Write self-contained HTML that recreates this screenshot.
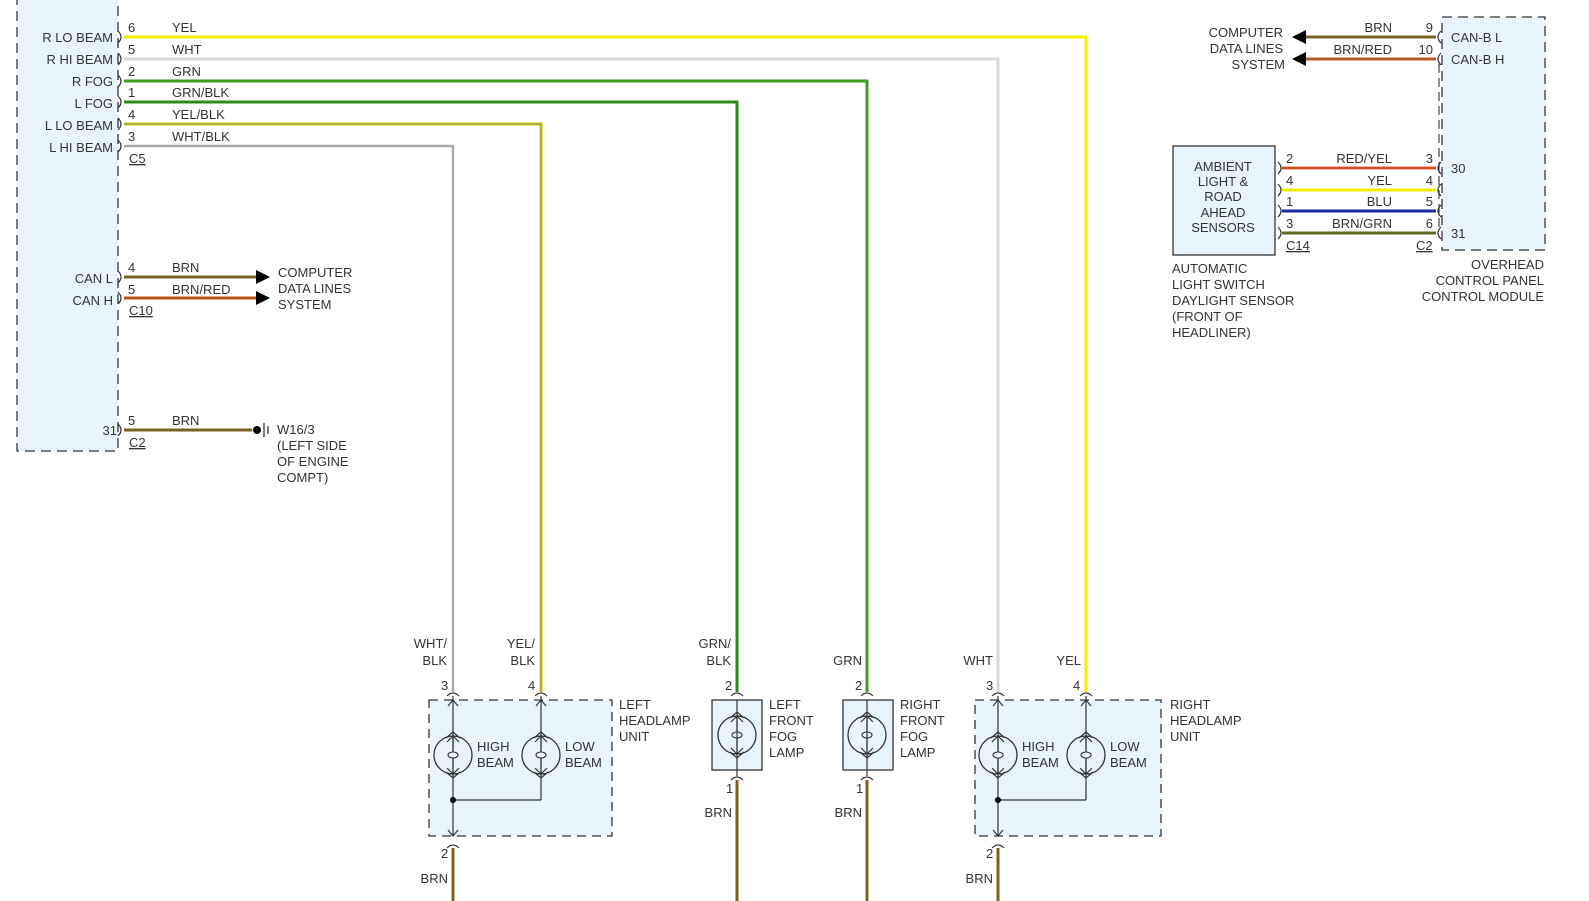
<!DOCTYPE html>
<html><head><meta charset="utf-8"><style>
html,body{margin:0;padding:0;background:#fff;width:1589px;height:901px;overflow:hidden}
svg{display:block}
svg text{font-family:"Liberation Sans",sans-serif;font-size:13px;fill:#333}
</style></head><body>
<svg width="1589" height="901" viewBox="0 0 1589 901" xmlns="http://www.w3.org/2000/svg">
<defs>
<g id="bulb">
<circle cx="0" cy="0" r="19" fill="none" stroke="#333" stroke-width="1.3"/>
<line x1="0" y1="-19" x2="0" y2="19" stroke="#333" stroke-width="1.2"/>
<polyline points="-6,-13 0,-19 6,-13" fill="none" stroke="#333" stroke-width="1.2"/>
<polyline points="-6,13 0,19 6,13" fill="none" stroke="#333" stroke-width="1.2"/>
<polyline points="-7,-17 0,-23 7,-17" fill="none" stroke="#333" stroke-width="1.2"/>
<polyline points="-7,17 0,23 7,17" fill="none" stroke="#333" stroke-width="1.2"/>
<ellipse cx="0" cy="0" rx="5" ry="3" fill="#eaf5fd" stroke="#333" stroke-width="1.1"/>
</g>
<g id="pinT"><path d="M-6,4 Q0,-2 6,4" fill="none" stroke="#333" stroke-width="1.2"/></g>
<g id="pinR"><path d="M-3,-6 Q3,0 -3,6" fill="none" stroke="#333" stroke-width="1.2"/></g>
<g id="pinL"><path d="M3,-6 Q-3,0 3,6" fill="none" stroke="#333" stroke-width="1.2"/></g>
</defs>

<rect x="17" y="-5" width="101" height="456" fill="#e8f4fc" stroke="#333" stroke-width="1.3" stroke-dasharray="10,6"/>
<g text-anchor="end">
<text x="113" y="42">R LO BEAM</text><text x="113" y="64">R HI BEAM</text><text x="113" y="86">R FOG</text>
<text x="113" y="108">L FOG</text><text x="113" y="130">L LO BEAM</text><text x="113" y="152">L HI BEAM</text>
<text x="113" y="283">CAN L</text><text x="113" y="305">CAN H</text><text x="117" y="435">31</text>
</g>

<polyline points="124,37 1086,37 1086,692" fill="none" stroke="#f2ee00" stroke-width="3"/>
<polyline points="124,59 998,59 998,692" fill="none" stroke="#d8d8d8" stroke-width="3"/>
<polyline points="124,81 867,81 867,692" fill="none" stroke="#3f9a1e" stroke-width="3"/>
<polyline points="124,102 737,102 737,692" fill="none" stroke="#2f8a1a" stroke-width="3"/>
<polyline points="124,124 541,124 541,692" fill="none" stroke="#e8e040" stroke-width="3.4"/>
<polyline points="124,124 541,124 541,692" fill="none" stroke="#9a9a40" stroke-width="1.4"/>
<polyline points="124,146 453,146 453,692" fill="none" stroke="#a8a8a8" stroke-width="2.4"/>
<g>
<use href="#pinR" x="121" y="37"/><use href="#pinR" x="121" y="59"/><use href="#pinR" x="121" y="81"/>
<use href="#pinR" x="121" y="102"/><use href="#pinR" x="121" y="124"/><use href="#pinR" x="121" y="146"/>
<use href="#pinR" x="121" y="277"/><use href="#pinR" x="121" y="298"/><use href="#pinR" x="121" y="430"/>
</g>
<g font-size="12">
<text x="128" y="32">6</text><text x="128" y="54">5</text><text x="128" y="76">2</text><text x="128" y="97">1</text><text x="128" y="119">4</text><text x="128" y="141">3</text>
<text x="128" y="272">4</text><text x="128" y="294">5</text><text x="128" y="425">5</text>
</g>
<text x="172" y="32">YEL</text><text x="172" y="54">WHT</text><text x="172" y="76">GRN</text><text x="172" y="97">GRN/BLK</text><text x="172" y="119">YEL/BLK</text><text x="172" y="141">WHT/BLK</text>
<text x="129" y="163" text-decoration="underline">C5</text>

<line x1="124" y1="277" x2="258" y2="277" stroke="#7a6220" stroke-width="3"/>
<line x1="124" y1="298" x2="258" y2="298" stroke="#f08040" stroke-width="3.6"/>
<line x1="124" y1="298" x2="258" y2="298" stroke="#8a4a20" stroke-width="1.6"/>
<polygon points="256,270 270,277 256,284" fill="#000"/>
<polygon points="256,291 270,298 256,305" fill="#000"/>
<text x="172" y="272">BRN</text><text x="172" y="294">BRN/RED</text>
<text x="129" y="315" text-decoration="underline">C10</text>
<text x="278" y="277">COMPUTER</text><text x="278" y="293">DATA LINES</text><text x="278" y="309">SYSTEM</text>

<line x1="124" y1="430" x2="252" y2="430" stroke="#7a6220" stroke-width="3"/>
<circle cx="257" cy="430" r="4" fill="#000"/>
<line x1="264" y1="423" x2="264" y2="437" stroke="#333" stroke-width="1.3"/>
<line x1="268" y1="426" x2="268" y2="434" stroke="#333" stroke-width="1.3"/>
<text x="172" y="425">BRN</text>
<text x="129" y="447" text-decoration="underline">C2</text>
<text x="277" y="434">W16/3</text><text x="277" y="450">(LEFT SIDE</text><text x="277" y="466">OF ENGINE</text><text x="277" y="482">COMPT)</text>

<rect x="429" y="700" width="183" height="136" fill="#e8f4fc" stroke="#333" stroke-width="1.3" stroke-dasharray="9,6"/>
<g stroke="#333" stroke-width="1.2" fill="none">
<line x1="453" y1="696" x2="453" y2="836"/><line x1="541" y1="696" x2="541" y2="800"/><line x1="453" y1="800" x2="541" y2="800"/>
<polyline points="448,706 453,700 458,706"/><polyline points="536,706 541,700 546,706"/><polyline points="448,830 453,836 458,830"/>
</g>
<circle cx="453" cy="800" r="3" fill="#000"/>
<use href="#bulb" x="453" y="755"/><use href="#bulb" x="541" y="755"/>
<use href="#pinT" x="453" y="692"/><use href="#pinT" x="541" y="692"/><use href="#pinT" x="453" y="844"/>
<text x="477" y="751">HIGH</text><text x="477" y="767">BEAM</text><text x="565" y="751">LOW</text><text x="565" y="767">BEAM</text>
<text x="619" y="709">LEFT</text><text x="619" y="725">HEADLAMP</text><text x="619" y="741">UNIT</text>
<text x="441" y="690">3</text><text x="528" y="690">4</text><text x="441" y="858">2</text>
<text x="447" y="648" text-anchor="end">WHT/</text><text x="447" y="665" text-anchor="end">BLK</text>
<text x="535" y="648" text-anchor="end">YEL/</text><text x="535" y="665" text-anchor="end">BLK</text>
<line x1="453" y1="848" x2="453" y2="901" stroke="#7a6220" stroke-width="3"/>
<text x="448" y="883" text-anchor="end">BRN</text>

<g>
<rect x="712" y="700" width="50" height="70" fill="#e8f4fc" stroke="#333" stroke-width="1.3"/>
<use href="#bulb" x="737" y="735"/>
<line x1="737" y1="700" x2="737" y2="776" stroke="#333" stroke-width="1.2"/>
<use href="#pinT" x="737" y="692"/><use href="#pinT" x="737" y="776"/>
<line x1="737" y1="780" x2="737" y2="901" stroke="#7a6220" stroke-width="3"/>
<text x="725" y="690">2</text><text x="726" y="793">1</text>
<text x="731" y="648" text-anchor="end">GRN/</text><text x="731" y="665" text-anchor="end">BLK</text>
<text x="732" y="817" text-anchor="end">BRN</text>
<text x="769" y="709">LEFT</text><text x="769" y="725">FRONT</text><text x="769" y="741">FOG</text><text x="769" y="757">LAMP</text>
</g>
<g>
<rect x="843" y="700" width="50" height="70" fill="#e8f4fc" stroke="#333" stroke-width="1.3"/>
<use href="#bulb" x="867" y="735"/>
<line x1="867" y1="700" x2="867" y2="776" stroke="#333" stroke-width="1.2"/>
<use href="#pinT" x="867" y="692"/><use href="#pinT" x="867" y="776"/>
<line x1="867" y1="780" x2="867" y2="901" stroke="#7a6220" stroke-width="3"/>
<text x="855" y="690">2</text><text x="856" y="793">1</text>
<text x="862" y="665" text-anchor="end">GRN</text>
<text x="862" y="817" text-anchor="end">BRN</text>
<text x="900" y="709">RIGHT</text><text x="900" y="725">FRONT</text><text x="900" y="741">FOG</text><text x="900" y="757">LAMP</text>
</g>

<rect x="975" y="700" width="186" height="136" fill="#e8f4fc" stroke="#333" stroke-width="1.3" stroke-dasharray="9,6"/>
<g stroke="#333" stroke-width="1.2" fill="none">
<line x1="998" y1="696" x2="998" y2="836"/><line x1="1086" y1="696" x2="1086" y2="800"/><line x1="998" y1="800" x2="1086" y2="800"/>
<polyline points="993,706 998,700 1003,706"/><polyline points="1081,706 1086,700 1091,706"/><polyline points="993,830 998,836 1003,830"/>
</g>
<circle cx="998" cy="800" r="3" fill="#000"/>
<use href="#bulb" x="998" y="755"/><use href="#bulb" x="1086" y="755"/>
<use href="#pinT" x="998" y="692"/><use href="#pinT" x="1086" y="692"/><use href="#pinT" x="998" y="844"/>
<text x="1022" y="751">HIGH</text><text x="1022" y="767">BEAM</text><text x="1110" y="751">LOW</text><text x="1110" y="767">BEAM</text>
<text x="1170" y="709">RIGHT</text><text x="1170" y="725">HEADLAMP</text><text x="1170" y="741">UNIT</text>
<text x="986" y="690">3</text><text x="1073" y="690">4</text><text x="986" y="858">2</text>
<text x="993" y="665" text-anchor="end">WHT</text><text x="1081" y="665" text-anchor="end">YEL</text>
<line x1="998" y1="848" x2="998" y2="901" stroke="#7a6220" stroke-width="3"/>
<text x="993" y="883" text-anchor="end">BRN</text>

<rect x="1442" y="17" width="103" height="233" fill="#e8f4fc" stroke="#333" stroke-width="1.3" stroke-dasharray="10,6"/>
<line x1="1439" y1="64" x2="1439" y2="228" stroke="#333" stroke-width="1.1" stroke-dasharray="9,5"/>
<text x="1451" y="42">CAN-B L</text><text x="1451" y="64">CAN-B H</text><text x="1451" y="173">30</text><text x="1451" y="238">31</text>
<line x1="1305" y1="37" x2="1436" y2="37" stroke="#7a6220" stroke-width="3"/>
<line x1="1305" y1="59" x2="1436" y2="59" stroke="#f09060" stroke-width="3.6"/>
<line x1="1305" y1="59" x2="1436" y2="59" stroke="#8a4a20" stroke-width="1.6"/>
<polygon points="1306,30 1292,37 1306,44" fill="#000"/>
<polygon points="1306,52 1292,59 1306,66" fill="#000"/>
<use href="#pinL" x="1438" y="37"/><use href="#pinL" x="1438" y="59"/>
<g text-anchor="end">
<text x="1392" y="32">BRN</text><text x="1392" y="54">BRN/RED</text>
<text x="1433" y="32" font-size="12">9</text><text x="1433" y="54" font-size="12">10</text>
<text x="1283" y="37">COMPUTER</text><text x="1283" y="53">DATA LINES</text><text x="1285" y="69">SYSTEM</text>
</g>
<text x="1544" y="269" text-anchor="end">OVERHEAD</text><text x="1544" y="285" text-anchor="end">CONTROL PANEL</text><text x="1544" y="301" text-anchor="end">CONTROL MODULE</text>

<rect x="1173" y="146" width="102" height="109" fill="#e8f4fc" stroke="#333" stroke-width="1.3"/>
<g text-anchor="middle"><text x="1223" y="171">AMBIENT</text><text x="1223" y="186">LIGHT &amp;</text><text x="1223" y="201">ROAD</text><text x="1223" y="217">AHEAD</text><text x="1223" y="232">SENSORS</text></g>
<line x1="1282" y1="168" x2="1436" y2="168" stroke="#f4a070" stroke-width="3.6"/>
<line x1="1282" y1="168" x2="1436" y2="168" stroke="#c03010" stroke-width="1.5"/>
<line x1="1282" y1="190" x2="1436" y2="190" stroke="#f2ee00" stroke-width="3"/>
<line x1="1282" y1="211" x2="1436" y2="211" stroke="#1a2aa0" stroke-width="3"/>
<line x1="1282" y1="233" x2="1436" y2="233" stroke="#5a6a20" stroke-width="3"/>
<use href="#pinR" x="1281" y="168"/><use href="#pinR" x="1281" y="190"/><use href="#pinR" x="1281" y="211"/><use href="#pinR" x="1281" y="233"/>
<use href="#pinL" x="1438" y="168"/><use href="#pinL" x="1438" y="190"/><use href="#pinL" x="1438" y="211"/><use href="#pinL" x="1438" y="233"/>
<g font-size="12"><text x="1286" y="163">2</text><text x="1286" y="185">4</text><text x="1286" y="206">1</text><text x="1286" y="228">3</text></g>
<g text-anchor="end"><text x="1392" y="163">RED/YEL</text><text x="1392" y="185">YEL</text><text x="1392" y="206">BLU</text><text x="1392" y="228">BRN/GRN</text>
<g font-size="12"><text x="1433" y="163">3</text><text x="1433" y="185">4</text><text x="1433" y="206">5</text><text x="1433" y="228">6</text></g></g>
<text x="1286" y="250" text-decoration="underline">C14</text><text x="1416" y="250" text-decoration="underline">C2</text>
<text x="1172" y="273">AUTOMATIC</text><text x="1172" y="289">LIGHT SWITCH</text><text x="1172" y="305">DAYLIGHT SENSOR</text><text x="1172" y="321">(FRONT OF</text><text x="1172" y="337">HEADLINER)</text>
</svg>
</body></html>
